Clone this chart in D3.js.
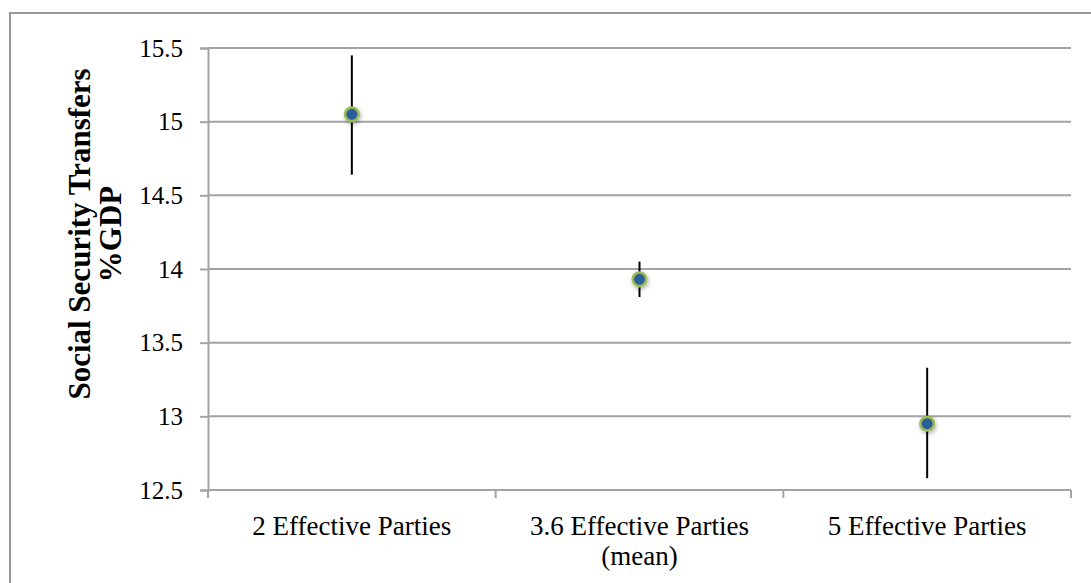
<!DOCTYPE html>
<html>
<head>
<meta charset="utf-8">
<script src="https://cdn.jsdelivr.net/npm/d3@7"></script>
<style>
  html, body { margin: 0; padding: 0; background: #fff; }
  svg { display: block; }
  text { font-family: "Liberation Serif", "DejaVu Serif", serif; fill: #000; }
</style>
</head>
<body>
<svg id="chart" width="1091" height="583"></svg>
<script>
// Party-system categories and estimated transfers with confidence intervals
const categories = ["2 Effective Parties", "3.6 Effective Parties (mean)", "5 Effective Parties"];
const means = [15.05, 13.93, 12.95];
const lower = [14.64, 13.81, 12.58];
const upper = [15.45, 14.05, 13.33];
const yTicks = [12.5, 13, 13.5, 14, 14.5, 15, 15.5];

const svg = d3.select("#chart");
const W = 1091, H = 583;
const margin = { left: 208, right: 20, top: 48, bottom: 93 };
const gridColor = "#a3a3a3";

// Outer chart frame
svg.append("rect")
  .attr("x", 10).attr("y", 13)
  .attr("width", W + 20).attr("height", H + 20)
  .attr("fill", "#fff").attr("stroke", "#999").attr("stroke-width", 2);

const x = d3.scaleBand()
  .domain(categories)
  .range([margin.left, W - margin.right])
  .paddingInner(0).paddingOuter(0);

const y = d3.scaleLinear()
  .domain([12.5, 15.5])
  .range([H - margin.bottom, margin.top]);

const defs = svg.append("defs");
const shadow = defs.append("filter").attr("id", "markerShadow")
  .attr("x", "-100%").attr("y", "-100%").attr("width", "300%").attr("height", "300%");
shadow.append("feDropShadow")
  .attr("dx", 1).attr("dy", 2).attr("stdDeviation", 2)
  .attr("flood-color", "#000").attr("flood-opacity", 0.3);

// Horizontal gridlines
svg.append("g")
  .selectAll("line")
  .data(yTicks.filter(d => d > 12.5))
  .join("line")
  .attr("x1", margin.left).attr("x2", W - margin.right)
  .attr("y1", d => y(d)).attr("y2", d => y(d))
  .attr("stroke", gridColor).attr("stroke-width", 2);

// Y axis
const yAxis = svg.append("g")
  .attr("transform", `translate(${margin.left},0)`)
  .call(d3.axisLeft(y).tickValues(yTicks).tickSize(8).tickPadding(17)
    .tickFormat(d => d3.format("")(d)));
yAxis.select(".domain").attr("stroke", gridColor).attr("stroke-width", 2);
yAxis.selectAll(".tick line").attr("stroke", gridColor).attr("stroke-width", 2);
yAxis.selectAll(".tick text")
  .attr("font-family", "Liberation Serif, DejaVu Serif, serif")
  .attr("font-size", 25).attr("fill", "#000");

// X axis with boundary ticks between categories
const xBase = y(12.5);
svg.append("line")
  .attr("x1", margin.left).attr("x2", W - margin.right)
  .attr("y1", xBase).attr("y2", xBase)
  .attr("stroke", gridColor).attr("stroke-width", 2);
const bounds = categories.map(c => x(c)).concat([x(categories[categories.length - 1]) + x.bandwidth()]);
svg.append("g")
  .selectAll("line")
  .data(bounds)
  .join("line")
  .attr("x1", d => d).attr("x2", d => d)
  .attr("y1", xBase).attr("y2", xBase + 8)
  .attr("stroke", gridColor).attr("stroke-width", 2);

// Category labels (wrap onto two lines where needed)
const labelLines = c => c.includes("(") ? [c.slice(0, c.indexOf("(")).trim(), c.slice(c.indexOf("("))] : [c];
svg.append("g")
  .selectAll("text")
  .data(categories)
  .join("text")
  .attr("text-anchor", "middle")
  .attr("font-size", 27)
  .attr("x", d => x(d) + x.bandwidth() / 2)
  .attr("y", xBase + 45)
  .each(function (d) {
    const t = d3.select(this);
    labelLines(d).forEach((line, i) => {
      t.append("tspan")
        .attr("x", x(d) + x.bandwidth() / 2)
        .attr("dy", i === 0 ? 0 : 30)
        .text(line);
    });
  });

// Y axis title
const title = svg.append("text")
  .attr("transform", `translate(${90},${234}) rotate(-90)`)
  .attr("text-anchor", "middle")
  .attr("font-weight", "bold")
  .attr("font-size", 31);
title.append("tspan").attr("x", 0).attr("dy", 0).text("Social Security Transfers");
title.append("tspan").attr("x", 0).attr("dy", 31).text("%GDP");

// Error bars
const cx = d => x(d) + x.bandwidth() / 2;
svg.append("g")
  .selectAll("line")
  .data(categories)
  .join("line")
  .attr("x1", cx).attr("x2", cx)
  .attr("y1", (d, i) => y(upper[i])).attr("y2", (d, i) => y(lower[i]))
  .attr("stroke", "#000").attr("stroke-width", 2);

// Mean markers
svg.append("g")
  .selectAll("circle")
  .data(categories)
  .join("circle")
  .attr("cx", cx)
  .attr("cy", (d, i) => y(means[i]))
  .attr("r", 6.8)
  .attr("fill", "#2c5f98")
  .attr("stroke", "#9bbb59")
  .attr("stroke-width", 2.6)
  .attr("filter", "url(#markerShadow)");
</script>
</body>
</html>
